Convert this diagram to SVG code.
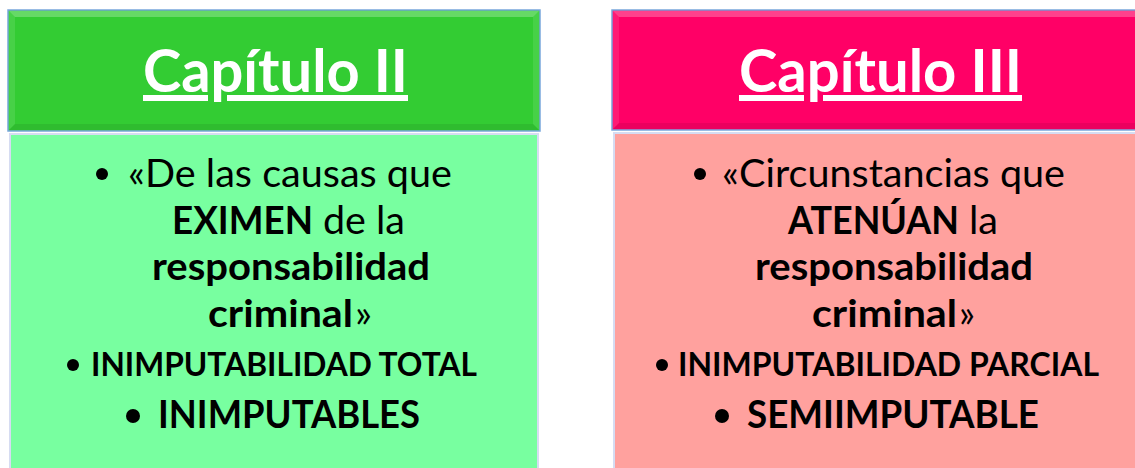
<svg xmlns="http://www.w3.org/2000/svg" width="1135" height="468" viewBox="0 0 1135 468">
<style>
.t{font-family:Lato,"Liberation Sans",sans-serif;fill:#000}
.title{font-family:Lato,"Liberation Sans",sans-serif;font-weight:700;font-size:60px;fill:#fff;text-decoration:underline}
.reg{font-size:38px;font-weight:400}
.b{font-weight:700}
.hl{fill:#fff;fill-opacity:.25}
.hs{fill:#fff;fill-opacity:.1}
.hd{fill:#000;fill-opacity:.08}
.hdr{stroke:#78a6dc;stroke-width:1.5}
.body{stroke:#d6dcf2;stroke-width:2}
</style>
<rect width="1135" height="468" fill="#fff"/>
<g id="capitulo-ii">
  <rect class="hdr" x="8" y="10" width="532" height="121" fill="#33cc33"/>
  <polygon class="hl" points="9,11 539,11 533,17 15,17"/>
  <polygon class="hs" points="9,11 15,17 15,124 9,130"/>
  <polygon class="hs" points="539,11 539,130 533,124 533,17"/>
  <polygon class="hd" points="9,130 539,130 533,124 15,124"/>
  <text class="title" x="143" y="92" textLength="265" lengthAdjust="spacingAndGlyphs">Capítulo II</text>
  <rect class="body" x="10" y="134" width="528" height="340" fill="#78ffa0"/>
  <circle cx="102" cy="174" r="6"/>
  <text class="t reg" x="128" y="187" textLength="324" lengthAdjust="spacingAndGlyphs">«De las causas que</text>
  <text class="t reg b" x="172" y="234" textLength="141" lengthAdjust="spacingAndGlyphs">EXIMEN</text>
  <text class="t reg" x="323" y="234" textLength="82" lengthAdjust="spacingAndGlyphs">de la</text>
  <text class="t reg b" x="152" y="280" textLength="278" lengthAdjust="spacingAndGlyphs">responsabilidad</text>
  <text class="t reg b" x="208" y="327" textLength="145" lengthAdjust="spacingAndGlyphs">criminal</text>
  <text class="t reg" x="355" y="327" textLength="17" lengthAdjust="spacingAndGlyphs">»</text>
  <circle cx="73" cy="365" r="6"/>
  <text class="t b" x="91" y="376" font-size="33" textLength="386" lengthAdjust="spacingAndGlyphs">INIMPUTABILIDAD TOTAL</text>
  <circle cx="133" cy="416" r="7"/>
  <text class="t b" x="158" y="428" font-size="39" textLength="262" lengthAdjust="spacingAndGlyphs">INIMPUTABLES</text>
</g>
<g id="capitulo-iii">
  <rect class="hdr" x="612" y="10" width="540" height="120" fill="#ff0066"/>
  <polygon class="hl" points="613,11 1151,11 1145,17 619,17"/>
  <polygon class="hs" points="613,11 619,17 619,123 613,129"/>
  <polygon class="hd" points="613,129 1151,129 1145,123 619,123"/>
  <text class="title" x="739" y="92" textLength="283" lengthAdjust="spacingAndGlyphs">Capítulo III</text>
  <rect class="body" x="614" y="133" width="530" height="340" fill="#ffa19e"/>
  <circle cx="700" cy="174" r="6"/>
  <text class="t reg" x="722" y="187" textLength="343" lengthAdjust="spacingAndGlyphs">«Circunstancias que</text>
  <text class="t reg b" x="788" y="234" textLength="171" lengthAdjust="spacingAndGlyphs">ATENÚAN</text>
  <text class="t reg" x="969" y="234" textLength="29" lengthAdjust="spacingAndGlyphs">la</text>
  <text class="t reg b" x="755" y="280" textLength="278" lengthAdjust="spacingAndGlyphs">responsabilidad</text>
  <text class="t reg b" x="812" y="327" textLength="145" lengthAdjust="spacingAndGlyphs">criminal</text>
  <text class="t reg" x="959" y="327" textLength="16" lengthAdjust="spacingAndGlyphs">»</text>
  <circle cx="662" cy="365" r="6"/>
  <text class="t b" x="678" y="376" font-size="33" textLength="421" lengthAdjust="spacingAndGlyphs">INIMPUTABILIDAD PARCIAL</text>
  <circle cx="722" cy="416" r="7"/>
  <text class="t b" x="747" y="428" font-size="39" textLength="292" lengthAdjust="spacingAndGlyphs">SEMIIMPUTABLE</text>
</g>
<g id="connectors"/>
</svg>
